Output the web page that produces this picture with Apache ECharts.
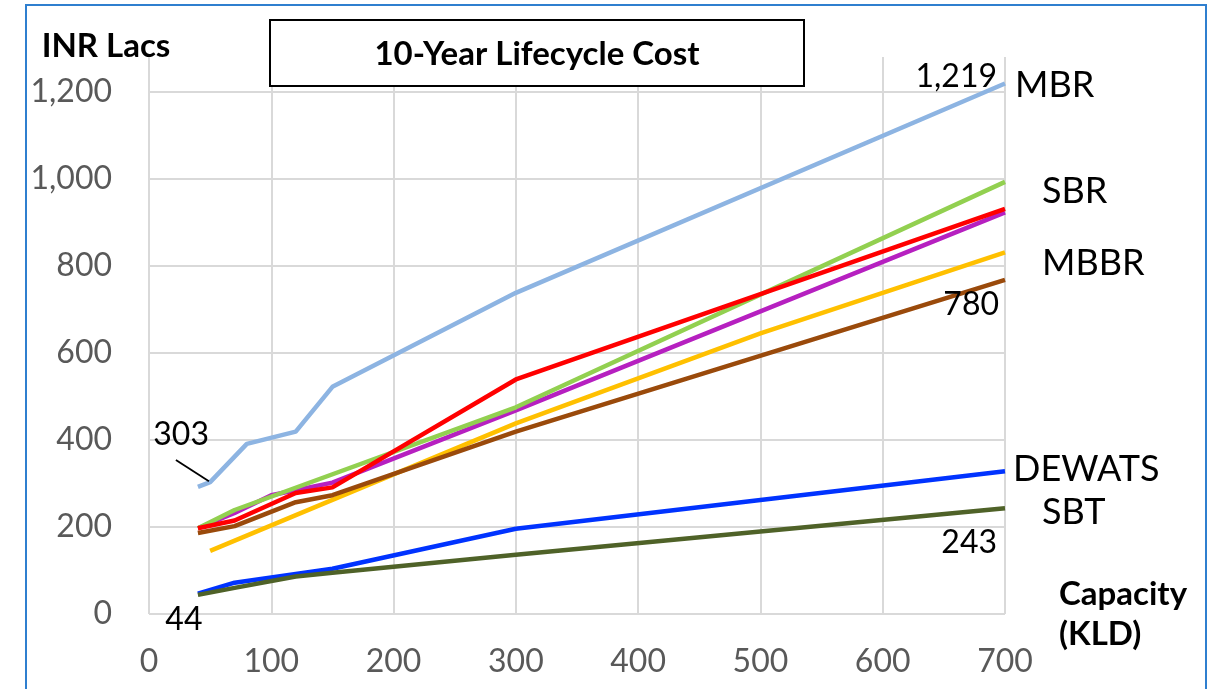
<!DOCTYPE html>
<html>
<head>
<meta charset="utf-8">
<title>10-Year Lifecycle Cost</title>
<script src="https://cdn.jsdelivr.net/npm/echarts@6/dist/echarts.min.js"></script>
<style>
  html, body { margin: 0; padding: 0; background: #fff; }
  #chart { width: 1213px; height: 689px; }
</style>
</head>
<body>
<div id="chart"></div>
<script>
// capacity (KLD) vs 10-year cost (INR Lacs)
const mbrKld = [40, 50, 80, 120, 150, 300, 700];
const mbrCost = [292, 303, 391, 419, 522, 738, 1219];

const dewatsKld = [40, 70, 120, 150, 300, 700];
const dewatsCost = [47, 72, 92, 104, 196, 328];

const sbtKld = [40, 70, 120, 150, 300, 700];
const sbtCost = [44, 60, 86, 95, 136, 243];

const mbbrKld = [50, 300, 500, 700];
const mbbrCost = [145, 438, 645, 831];

const brownKld = [40, 70, 120, 150, 300, 700];
const brownCost = [186, 202, 257, 273, 419, 768];

const purpleKld = [40, 70, 100, 150, 300, 700];
const purpleCost = [197, 232, 273, 302, 468, 923];

const sbrKld = [40, 70, 300, 700];
const sbrCost = [197, 239, 475, 993];

const redKld = [40, 70, 120, 150, 300, 700];
const redCost = [197, 215, 278, 291, 539, 931];

// value labels shown on single points: [series, point index, text]
const pointNotes = [
    ['MBR', 1, '303'],
    ['MBR', 6, '1,219'],
    ['Brown', 5, '780'],
    ['SBT', 5, '243'],
    ['SBT', 0, '44']
];

// leader from the "303" label down to its point
const leaderKld = [22, 49];
const leaderCost = [354, 305];

const FONT = 'Lato';

document.addEventListener('DOMContentLoaded', function() {

    const noteStyle = {
        'MBR-1': { position: 'top', distance: 5, offset: [-29, -26] },
        'MBR-6': { position: 'left', distance: 8, offset: [0, -7] },
        'Brown-5': { position: 'left', distance: 6, offset: [0, 25] },
        'SBT-5': { position: 'left', distance: 8, offset: [0, 34] },
        'SBT-0': { position: 'bottom', distance: 5, offset: [-14, 4] }
    };

    const toData = (name, kld, cost) => kld.map((x, i) => {
        const note = pointNotes.find(n => n[0] === name && n[1] === i);
        if (!note) return [x, cost[i]];
        return {
            value: [x, cost[i]],
            label: Object.assign({
                show: true,
                formatter: note[2],
                fontSize: 32,
                fontFamily: FONT,
                color: '#000'
            }, noteStyle[name + '-' + i])
        };
    });

    const line = (name, color, kld, cost, endLabel) => ({
        name: name,
        type: 'line',
        data: toData(name, kld, cost),
        showSymbol: true,
        symbol: 'circle',
        symbolSize: 0,
        lineStyle: { color: color, width: 4.5 },
        itemStyle: { color: color },
        endLabel: endLabel ? Object.assign({
            show: true,
            formatter: name,
            fontSize: 36,
            fontFamily: FONT,
            color: '#000'
        }, endLabel) : { show: false }
    });

    const chart = echarts.init(document.getElementById('chart'));

    chart.setOption({
        animation: false,
        grid: {
            left: 149,
            right: 208,
            top: 57,
            bottom: 75
        },
        xAxis: {
            type: 'value',
            min: 0,
            max: 700,
            interval: 100,
            name: 'Capacity\n(KLD)',
            nameLocation: 'end',
            nameGap: 54,
            nameTextStyle: {
                fontFamily: FONT,
                fontSize: 33,
                fontWeight: 'bold',
                color: '#000',
                lineHeight: 40,
                align: 'left',
                verticalAlign: 'middle'
            },
            axisLine: { show: false },
            axisTick: { show: false },
            axisLabel: {
                margin: 32,
                fontFamily: FONT,
                fontSize: 32,
                color: '#595959'
            },
            splitLine: {
                show: true,
                lineStyle: { color: '#d9d9d9', width: 2 }
            }
        },
        yAxis: {
            type: 'value',
            min: 0,
            max: 1280,
            interval: 200,
            name: 'INR Lacs',
            nameLocation: 'end',
            nameGap: -6,
            nameTextStyle: {
                fontFamily: FONT,
                fontSize: 33,
                fontWeight: 'bold',
                color: '#000',
                align: 'center',
                padding: [0, 86, 0, 0]
            },
            axisLine: { show: false },
            axisTick: { show: false },
            axisLabel: {
                margin: 37,
                fontFamily: FONT,
                fontSize: 32,
                color: '#595959',
                showMaxLabel: false,
                formatter: (v) => v.toLocaleString('en-US')
            },
            splitLine: {
                show: true,
                showMaxLine: false,
                lineStyle: { color: '#d9d9d9', width: 2 }
            }
        },
        graphic: [
            {
                type: 'rect',
                z: 100,
                shape: { x: 26, y: 5, width: 1180, height: 700 },
                style: { fill: 'none', stroke: '#2f7fcf', lineWidth: 2 }
            },
            {
                type: 'rect',
                z: 100,
                shape: { x: 270, y: 20, width: 534, height: 66 },
                style: { fill: '#fff', stroke: '#000', lineWidth: 2 }
            },
            {
                type: 'text',
                z: 101,
                x: 537,
                y: 54,
                style: {
                    text: '10-Year Lifecycle Cost',
                    fontFamily: FONT,
                    fontSize: 33,
                    fontWeight: 'bold',
                    fill: '#000',
                    align: 'center',
                    verticalAlign: 'middle'
                }
            }
        ],
        series: [
            line('MBR', '#8db4e2', mbrKld, mbrCost, { distance: 10, offset: [0, 2] }),
            line('DEWATS', '#0033ff', dewatsKld, dewatsCost, { distance: 8, offset: [0, -2] }),
            line('SBT', '#4f6228', sbtKld, sbtCost, { distance: 10, offset: [27, 4] }),
            line('MBBR', '#ffc000', mbbrKld, mbbrCost, { distance: 10, offset: [27, 11] }),
            line('Brown', '#9a4a0b', brownKld, brownCost),
            line('Purple', '#b620c0', purpleKld, purpleCost),
            line('SBR', '#92d050', sbrKld, sbrCost, { distance: 10, offset: [27, 10] }),
            line('Red', '#ff0000', redKld, redCost),
            {
                name: 'leader',
                type: 'line',
                data: leaderKld.map((x, i) => [x, leaderCost[i]]),
                showSymbol: false,
                silent: true,
                z: 3,
                lineStyle: { color: '#000', width: 1.8 }
            }
        ]
    });

});
</script>
</body>
</html>
